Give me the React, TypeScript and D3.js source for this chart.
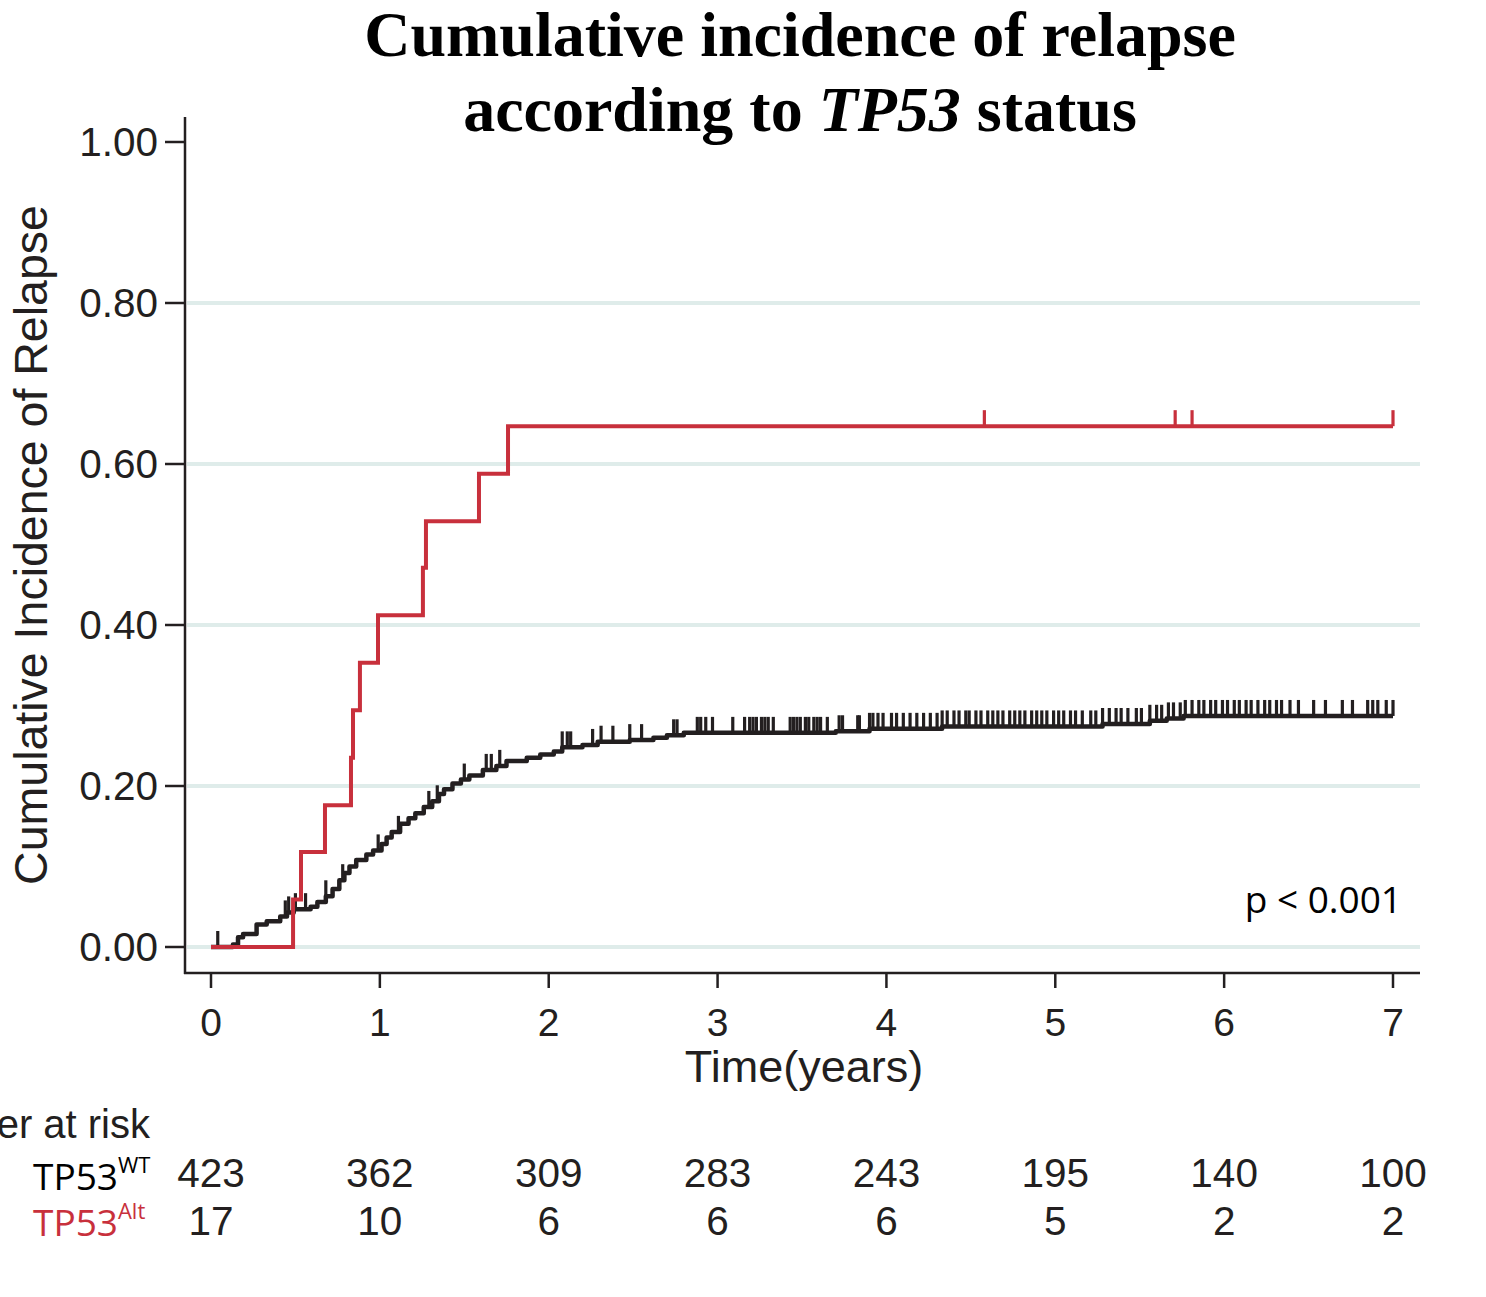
import React from 'react';
import * as d3 from 'd3';

// cumulative incidence steps [years, CI]
const wtSteps: [number, number][] = [
  [0, 0], [0.13, 0.003], [0.16, 0.012], [0.19, 0.016], [0.27, 0.028], [0.33, 0.032],
  [0.41, 0.038], [0.45, 0.043], [0.49, 0.047], [0.59, 0.05], [0.63, 0.056], [0.68, 0.063],
  [0.72, 0.072], [0.76, 0.083], [0.79, 0.092], [0.82, 0.1], [0.86, 0.108], [0.92, 0.115],
  [0.96, 0.12], [1.01, 0.128], [1.04, 0.136], [1.07, 0.143], [1.12, 0.153], [1.17, 0.16],
  [1.21, 0.166], [1.26, 0.174], [1.31, 0.181], [1.35, 0.19], [1.38, 0.196], [1.43, 0.203],
  [1.48, 0.208], [1.53, 0.213], [1.61, 0.22], [1.69, 0.225], [1.75, 0.231], [1.87, 0.235],
  [1.95, 0.239], [2.03, 0.243], [2.08, 0.248], [2.2, 0.251], [2.29, 0.255], [2.48, 0.257],
  [2.62, 0.26], [2.7, 0.263], [2.8, 0.266], [3.7, 0.268], [3.9, 0.271], [4.33, 0.274],
  [5.28, 0.277], [5.56, 0.281], [5.66, 0.284], [5.76, 0.287], [7.0, 0.287],
];

const altSteps: [number, number][] = [
  [0, 0], [0.486, 0.059], [0.533, 0.118], [0.675, 0.176], [0.829, 0.235], [0.841, 0.294],
  [0.882, 0.353], [0.989, 0.412], [1.255, 0.471], [1.273, 0.529], [1.587, 0.588],
  [1.759, 0.647], [7.0, 0.647],
];

// censoring times (years)
const wtCensored: number[] = [
  0.04, 0.44, 0.46, 0.5, 0.56, 0.68, 0.78, 0.99, 1.11, 1.29, 1.34, 1.5, 1.63, 1.66, 1.71,
  2.08, 2.11, 2.13, 2.26, 2.31, 2.38, 2.48, 2.55, 2.74, 2.76, 2.88, 2.9, 2.93, 2.97, 3.09,
  3.16, 3.19, 3.21, 3.23, 3.26, 3.28, 3.3, 3.33, 3.43, 3.45, 3.47, 3.49, 3.52, 3.54, 3.57,
  3.59, 3.61, 3.65, 3.72, 3.74, 3.83, 3.84, 3.9, 3.92, 3.95, 3.98, 4.03, 4.06, 4.1, 4.14,
  4.18, 4.22, 4.26, 4.3, 4.33, 4.36, 4.4, 4.43, 4.47, 4.49, 4.53, 4.56, 4.6, 4.63, 4.66,
  4.69, 4.73, 4.76, 4.79, 4.82, 4.86, 4.89, 4.92, 4.95, 4.99, 5.02, 5.05, 5.09, 5.12, 5.16,
  5.21, 5.24, 5.28, 5.32, 5.36, 5.39, 5.43, 5.48, 5.51, 5.56, 5.6, 5.63, 5.67, 5.7, 5.74,
  5.77, 5.81, 5.85, 5.88, 5.92, 5.95, 5.99, 6.02, 6.06, 6.09, 6.13, 6.16, 6.2, 6.24, 6.27,
  6.31, 6.34, 6.39, 6.44, 6.53, 6.6, 6.7, 6.76, 6.85, 6.88, 6.91, 6.96, 7.0,
];
const altCensored: number[] = [4.58, 5.71, 5.81, 7.0];

const yTicks = [0, 0.2, 0.4, 0.6, 0.8, 1.0];
const xTicks = [0, 1, 2, 3, 4, 5, 6, 7];
const riskWT = [423, 362, 309, 283, 243, 195, 140, 100];
const riskAlt = [17, 10, 6, 6, 6, 5, 2, 2];

const RED = '#c8303c';
const INK = '#231f20';
const GRID = '#dfecea';
const SANS = '"Liberation Sans", Arial, sans-serif';
const SERIF = '"Liberation Serif", "Times New Roman", serif';
const MYRIAD = '"Open Sans", "Noto Sans", sans-serif';

const x = d3.scaleLinear().domain([0, 7]).range([211, 1393]);
const y = d3.scaleLinear().domain([0, 1]).range([947, 142]);

const stepLine = d3.line<[number, number]>()
  .x(d => x(d[0]))
  .y(d => y(d[1]))
  .curve(d3.curveStepAfter);

// value of a step curve at time t
function valueAt(steps: [number, number][], t: number): number {
  let v = 0;
  for (const s of steps) if (s[0] <= t) v = s[1];
  return v;
}

const App: React.FC = () => {
  const axisLeft = 185;
  const axisBottom = 973;
  const axisRight = 1420;

  return (
    <svg width={1486} height={1297} style={{ position: 'absolute', left: 0, top: 0, background: '#fff' }}>
      {/* title */}
      <text x={800} y={56} textAnchor="middle" fontFamily={SERIF} fontWeight="bold" fontSize={64} fill="#000">
        Cumulative incidence of relapse
      </text>
      <text x={800} y={131} textAnchor="middle" fontFamily={SERIF} fontWeight="bold" fontSize={64} fill="#000">
        according to <tspan fontStyle="italic">TP53</tspan> status
      </text>

      {/* gridlines */}
      {yTicks.filter(t => t < 1).map(t => (
        <line key={'g' + t} x1={axisLeft + 2} x2={axisRight} y1={y(t)} y2={y(t)} stroke={GRID} strokeWidth={4} />
      ))}

      {/* axes */}
      <line x1={axisLeft} x2={axisLeft} y1={117} y2={axisBottom + 1} stroke={INK} strokeWidth={2.5} />
      <line x1={axisLeft - 1} x2={axisRight} y1={axisBottom} y2={axisBottom} stroke={INK} strokeWidth={2.5} />
      {yTicks.map(t => (
        <g key={'y' + t}>
          <line x1={axisLeft - 20} x2={axisLeft} y1={y(t)} y2={y(t)} stroke={INK} strokeWidth={2.5} />
          <text x={158} y={y(t) + 14} textAnchor="end" fontFamily={SANS} fontSize={40.5} fill={INK}>{t.toFixed(2)}</text>
        </g>
      ))}
      {xTicks.map(t => (
        <g key={'x' + t}>
          <line x1={x(t)} x2={x(t)} y1={axisBottom} y2={axisBottom + 15} stroke={INK} strokeWidth={2.5} />
          <text x={x(t)} y={1036} textAnchor="middle" fontFamily={SANS} fontSize={39} fill={INK}>{t}</text>
        </g>
      ))}
      <text x={804} y={1082} textAnchor="middle" fontFamily={SANS} fontSize={45} fill={INK}>Time(years)</text>
      <text transform="translate(47,545) rotate(-90)" textAnchor="middle" fontFamily={SANS} fontSize={46.5} fill={INK}>
        Cumulative Incidence of Relapse
      </text>

      {/* TP53 wild type */}
      <path d={stepLine(wtSteps) || ''} fill="none" stroke={INK} strokeWidth={4.5} strokeLinejoin="round" />
      {wtCensored.map((t, i) => (
        <line key={'cw' + i} x1={x(t)} x2={x(t)} y1={y(valueAt(wtSteps, t))} y2={y(valueAt(wtSteps, t)) - 16}
          stroke={INK} strokeWidth={3.2} />
      ))}

      {/* TP53 altered */}
      <path d={stepLine(altSteps) || ''} fill="none" stroke={RED} strokeWidth={4} />
      {altCensored.map((t, i) => (
        <line key={'ca' + i} x1={x(t)} x2={x(t)} y1={y(valueAt(altSteps, t))} y2={y(valueAt(altSteps, t)) - 16}
          stroke={RED} strokeWidth={3.2} />
      ))}

      <text x={1402} y={913} textAnchor="end" fontFamily={MYRIAD} fontSize={37} fill="#000">p &lt; 0.001</text>

      {/* number at risk */}
      <text x={150} y={1138} textAnchor="end" fontFamily={SANS} fontSize={40} fill={INK}>Number at risk</text>
      <text x={33} y={1190} fontFamily={MYRIAD} fontSize={37} fill="#000">
        TP53<tspan fontSize={22} dy={-17}>WT</tspan>
      </text>
      <text x={33} y={1236} fontFamily={MYRIAD} fontSize={37} fill={RED}>
        TP53<tspan fontSize={22} dy={-17}>Alt</tspan>
      </text>
      {riskWT.map((n, i) => (
        <text key={'rw' + i} x={x(xTicks[i])} y={1187} textAnchor="middle" fontFamily={SANS} fontSize={40.5} fill={INK}>{n}</text>
      ))}
      {riskAlt.map((n, i) => (
        <text key={'ra' + i} x={x(xTicks[i])} y={1235} textAnchor="middle" fontFamily={SANS} fontSize={40.5} fill={INK}>{n}</text>
      ))}
    </svg>
  );
};

export default App;
